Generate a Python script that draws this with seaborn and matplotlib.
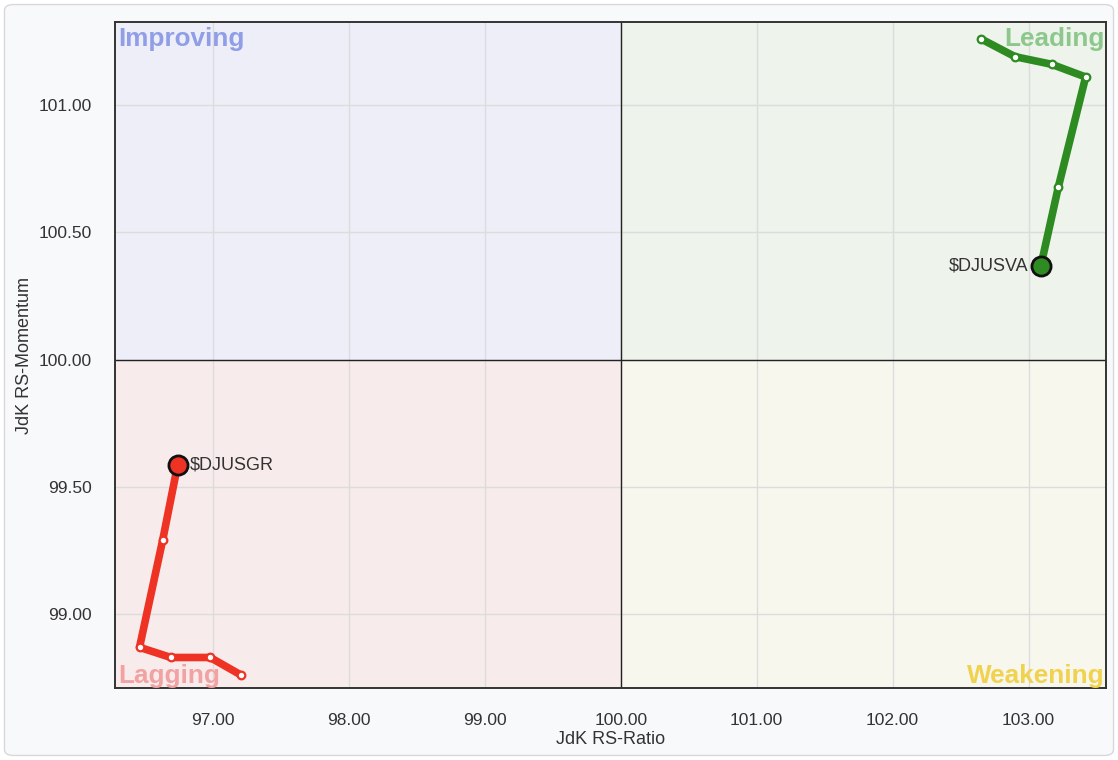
import matplotlib
matplotlib.use("Agg")
import matplotlib.pyplot as plt
from matplotlib.patches import FancyBboxPatch
import seaborn as sns
import pandas as pd

# ---- data ----
va_name = "$DJUSVA"
va_ratio = [102.65, 102.90, 103.17, 103.42, 103.22, 103.09]
va_momentum = [101.26, 101.19, 101.16, 101.11, 100.68, 100.367]

gr_name = "$DJUSGR"
gr_ratio = [97.21, 96.98, 96.69, 96.46, 96.63, 96.74]
gr_momentum = [98.76, 98.83, 98.83, 98.87, 99.29, 99.585]

x_ticks = [97, 98, 99, 100, 101, 102, 103]
y_ticks = [99.0, 99.5, 100.0, 100.5, 101.0]
quadrant_names = ["Improving", "Leading", "Lagging", "Weakening"]

xlim = (96.28, 103.57)
ylim = (98.71, 101.326)

sns.set_theme(style="white")
plt.rcParams["font.family"] = ["Liberation Sans", "DejaVu Sans"]

fig = plt.figure(figsize=(11.18, 7.6), dpi=100)
fig.patch.set_facecolor("white")
bg = FancyBboxPatch((0.004, 0.006), 0.992, 0.988, boxstyle="round,pad=0,rounding_size=0.008",
                    transform=fig.transFigure, facecolor="#f8f9fb", edgecolor="#d6d8dc",
                    linewidth=1.0, zorder=-10)
fig.patches.append(bg)

ax = fig.add_axes([0.1029, 0.0947, 0.8864, 0.8763])
ax.set_xlim(*xlim)
ax.set_ylim(*ylim)

ymid = (100 - ylim[0]) / (ylim[1] - ylim[0])
ax.axvspan(xlim[0], 100, ymin=ymid, ymax=1, color="#eeeef8", zorder=0, lw=0)
ax.axvspan(100, xlim[1], ymin=ymid, ymax=1, color="#eef3ec", zorder=0, lw=0)
ax.axvspan(xlim[0], 100, ymin=0, ymax=ymid, color="#f8ebeb", zorder=0, lw=0)
ax.axvspan(100, xlim[1], ymin=0, ymax=ymid, color="#f8f7ee", zorder=0, lw=0)

ax.set_xticks(x_ticks)
ax.set_yticks(y_ticks)
ax.set_xticklabels([f"{v:.2f}" for v in x_ticks])
ax.set_yticklabels([f"{v:.2f}" for v in y_ticks])
ax.grid(True, color="#dcdcdc", linewidth=1.0, zorder=1)
ax.set_axisbelow(True)
ax.axvline(100, color="#222222", lw=1.0, zorder=2)
ax.axhline(100, color="#222222", lw=1.0, zorder=2)

for s in ax.spines.values():
    s.set_color("#333333")
    s.set_linewidth(1.4)
ax.tick_params(axis="x", colors="#333333", labelsize=12.5, length=0, pad=18)
ax.tick_params(axis="y", colors="#333333", labelsize=12.5, length=0, pad=16.5)

# quadrant labels
qkw = dict(fontsize=18.8, fontweight="bold", transform=ax.transAxes, zorder=3)
ax.text(0.003, 0.992, quadrant_names[0], color="#8f9ee6", ha="left", va="top", **qkw)
ax.text(0.999, 0.992, quadrant_names[1], color="#8cc88c", ha="right", va="top", **qkw)
ax.text(0.003, 0.0, quadrant_names[2], color="#f2a2a2", ha="left", va="bottom", **qkw)
ax.text(0.999, 0.0, quadrant_names[3], color="#f0d24e", ha="right", va="bottom", **qkw)

series = [
    (va_name, va_ratio, va_momentum, "#2e8b22", "left"),
    (gr_name, gr_ratio, gr_momentum, "#ee3224", "right"),
]
for name, xr, ym, col, side in series:
    df = pd.DataFrame({"ratio": xr, "momentum": ym, "step": range(len(xr))})
    sns.lineplot(data=df, x="ratio", y="momentum", sort=False, color=col, lw=5.5,
                 ax=ax, zorder=4, solid_capstyle="round", solid_joinstyle="round")
    sns.scatterplot(data=df.iloc[:-1], x="ratio", y="momentum", s=30, color="white",
                    edgecolor=col, linewidth=1.6, ax=ax, zorder=5)
    sns.scatterplot(data=df.iloc[-1:], x="ratio", y="momentum", s=190, color=col,
                    edgecolor="#111111", linewidth=2.0, ax=ax, zorder=6)
    off = -0.09 if side == "left" else 0.09
    ax.text(xr[-1] + off, ym[-1], name, ha="right" if side == "left" else "left",
            va="center", fontsize=13, color="#333333", zorder=7, parse_math=False)

ax.set_xlabel("JdK RS-Ratio", fontsize=13, color="#333333", labelpad=2)
ax.set_ylabel("JdK RS-Momentum", fontsize=13, color="#333333", labelpad=4)

fig.savefig("out.png", dpi=100, facecolor=fig.get_facecolor())
